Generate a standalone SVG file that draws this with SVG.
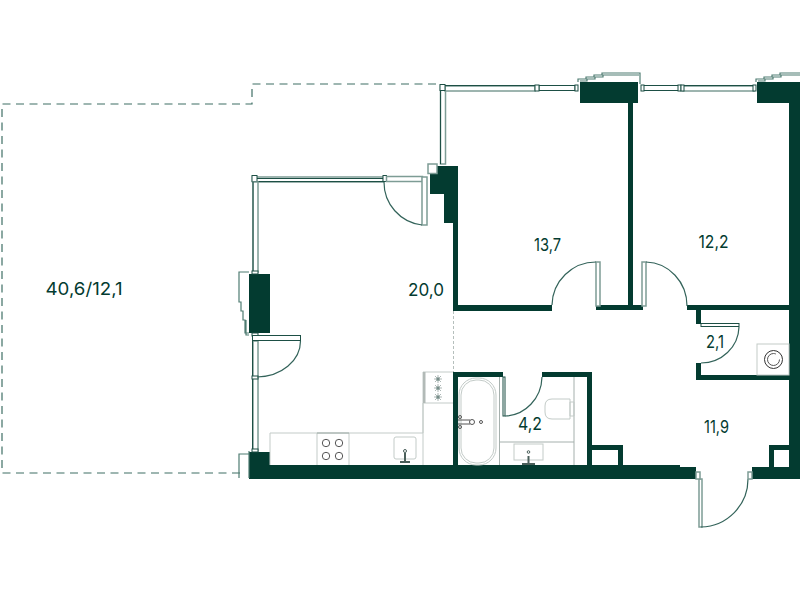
<svg xmlns="http://www.w3.org/2000/svg" width="800" height="600" viewBox="0 0 800 600">
<style>
.w{fill:#033b30}
.g{fill:#fff;stroke:#1d4f45;stroke-width:1}
.gl{fill:#fff;stroke:#7d9c95;stroke-width:1.5}
.st{fill:none;stroke:#4f7c72;stroke-width:1.2}
.ln{fill:none;stroke:#1d4f45;stroke-width:1}
.a{fill:none;stroke:#33635a;stroke-width:1.2}
.d{fill:none;stroke:#3f6f65;stroke-width:1.2;stroke-dasharray:8 5.500}
.f{fill:none;stroke:#c3cbc8;stroke-width:1}
.b{fill:none;stroke:#555;stroke-width:1}
text{font-family:"Inter","Liberation Sans",sans-serif;font-size:17.500px;fill:#033b30;text-anchor:middle}
</style>
<g id="terrace"><path class="d" d="M240 473H2V104H252V84H440"/></g>
<g id="walls">
<path class="w" d="M430 166H458V305H552V311H453V223H444V194H430Z"/>
<path class="w" d="M249 274H270V333H249Z"/>
<path class="w" d="M249 452H270V465H680V467H696V479H249Z"/>
<path class="w" d="M580 82H638V103H633V306H628V103H580Z"/>
<path class="w" d="M596 305H643V310H596Z"/>
<path class="w" d="M757 82H800V479H752V467H789V103H757Z"/>
<path class="w" d="M687 305H789V310H701V324H696V310H687Z"/>
<path class="w" d="M696 363H701V375H789V380H696Z"/>
<path class="w" d="M453 372H503V377H458V465H453Z"/>
<path class="w" d="M542 372H592V465H587V377H542Z"/>
<path class="w" d="M592 445H623V465H618V450H592Z"/>
<path class="w" d="M769 445H789V450H774V467H769Z"/>
</g>
<g id="connectors">
<g id="windows">
<path class="st" d="M249 272H239V302H241V311H243V320H245V333H249M249 335H246V320"/>
<path class="st" d="M249 454H239V478M249 451V478"/>
<path class="st" d="M578 82V79H586V77H594V75H602V73H640V84M580 81H587V79H595V77H603V75H639"/>
<path class="st" d="M756 82V79H764V77H772V75H780V73H800M758 81H765V79H773V77H781V75H800"/>
<rect class="gl" x="440.500" y="86" width="5" height="78"/>
<path class="ln" d="M440.500 86V164"/>
<rect class="gl" x="445" y="86" width="90" height="5"/>
<path class="ln" d="M445 85.500H535"/>
<rect class="g" x="539" y="85.500" width="36" height="5"/>
<rect class="g" x="440" y="84.500" width="5" height="6"/>
<rect class="g" x="535" y="85" width="4" height="6"/>
<rect class="g" x="575" y="85" width="3" height="6"/>
<rect class="g" x="643" y="85.500" width="36" height="5"/>
<rect class="gl" x="683" y="86" width="71" height="5"/>
<path class="ln" d="M683 85.500H754"/>
<rect class="g" x="678" y="85" width="3" height="6"/>
<rect class="g" x="681" y="85" width="3" height="6"/>
<rect class="g" x="641" y="85" width="3" height="6"/>
<rect class="g" x="753" y="85" width="3" height="6"/>
<rect class="gl" x="252.500" y="177" width="131" height="5"/>
<path class="ln" d="M257 178.500H384M257 181.500H384"/>
<rect class="g" x="252" y="175.500" width="5" height="6"/>
<rect class="g" x="383" y="175.500" width="3.500" height="6"/>
<rect class="gl" x="386.500" y="176.500" width="36" height="5"/>
<rect class="gl" x="253" y="182" width="5" height="90"/>
<path class="ln" d="M253 182V272"/>
<rect class="gl" x="253" y="341" width="5" height="110"/>
<path class="ln" d="M252.500 335V451"/>
<rect class="g" x="252" y="271" width="6" height="3"/>
<rect class="g" x="252" y="333" width="6" height="3"/>
<rect class="g" x="252" y="376" width="6" height="3"/>
<rect class="g" x="252" y="449" width="6" height="3"/>
<rect class="gl" x="428" y="164" width="9" height="9.500"/>
</g>
</g>
<g id="doors">
<rect class="gl" x="422" y="177" width="5" height="48"/>
<path class="a" d="M384 182A43 43 0 0 0 422 225"/>
<rect class="g" x="252.500" y="335.500" width="48" height="5"/>
<path class="a" d="M300.500 341A44 36 0 0 1 257 377"/>
<rect class="gl" x="596" y="262" width="4" height="44"/>
<path class="a" d="M552 305A44 44 0 0 1 596 262"/>
<rect class="gl" x="642" y="262" width="4" height="44"/>
<path class="a" d="M646 262A42 44 0 0 1 687 306"/>
<rect class="g" x="701" y="323.500" width="38" height="3"/>
<path class="a" d="M739 327A38 37 0 0 1 701 363"/>
<rect class="g" x="503" y="377" width="2" height="39"/>
<path class="a" d="M505 416A38 40 0 0 0 542 377"/>
<rect class="gl" x="699" y="479" width="3" height="48"/>
<path class="a" d="M701 527A48 48 0 0 0 748 479"/>
<rect class="gl" x="696" y="472" width="4" height="7"/>
<rect class="gl" x="748" y="472" width="4" height="7"/>
</g>
<g id="fixtures">
<path d="M453.500 311V372" stroke-dasharray="3 2" stroke="#b5bfbc" fill="none"/>
<path class="f" d="M270 465V433H423V372H453M423 403H453M423 403V465M317 433V465M349 433V465"/>
<rect x="423" y="372" width="2.500" height="31" fill="#b2bab7"/>
<path d="M317 433H349" stroke="#9aa8a4" fill="none"/>
<circle cx="326" cy="443" r="3.700" class="b"/><circle cx="339" cy="443" r="3.700" class="b"/><circle cx="326" cy="456" r="3.700" class="b"/><circle cx="339" cy="456" r="3.700" class="b"/>
<rect class="f" x="394" y="437" width="22" height="22" rx="2"/>
<path d="M405 453V462M400 462H410" stroke="#4a5f5a" stroke-width="2" fill="none"/>
<circle cx="405" cy="451" r="1.500" fill="#fff" stroke="#4a5f5a"/>
<g fill="#033b30"><circle cx="438" cy="379" r="1.500"/><circle cx="438" cy="388" r="1.500"/><circle cx="438" cy="397" r="1.500"/></g>
<path d="M434 379H442M438 375V383M435 376L441 382M441 376L435 382M434 388H442M438 384V392M435 385L441 391M441 385L435 391M434 397H442M438 393V401M435 394L441 400M441 394L435 400" stroke="#8a9a96" stroke-width=".7"/>
<path d="M499.500 377V465M500 442H574M574 377V465" fill="none" stroke="#a5b0ad"/>
<rect class="f" x="459" y="378" width="37" height="87" rx="17"/>
<rect class="f" x="461" y="380" width="33" height="83" rx="15"/>
<path class="b" d="M458 420H470M458 424H470"/>
<circle class="b" cx="472" cy="422" r="2.500"/>
<circle class="b" cx="481" cy="422" r="1.500"/>
<circle class="b" cx="460" cy="417" r="1.500"/>
<circle class="b" cx="460" cy="427" r="1.500"/>
<path class="f" d="M570 399H552Q545 399 545 406V412Q545 419 552 419H570ZM570 402H574V416H570Z"/>
<rect class="f" x="514" y="444" width="29" height="16"/>
<path d="M528.500 456V465M522 464H535" stroke="#4a5f5a" stroke-width="2" fill="none"/>
<circle cx="528.500" cy="452" r="1.300" fill="#fff" stroke="#4a5f5a"/>
<rect class="f" x="757" y="344" width="32" height="31"/>
<circle cx="773.500" cy="359.500" r="9" fill="none" stroke="#333"/>
<circle class="b" cx="773.500" cy="359.500" r="6" stroke-dasharray="30 8"/>
</g>
<g id="labels">
<text x="84" y="295" textLength="77" lengthAdjust="spacingAndGlyphs">40,6/12,1</text>
<text x="426" y="296" textLength="36" lengthAdjust="spacingAndGlyphs">20,0</text>
<text x="547.500" y="250.500" textLength="27" lengthAdjust="spacingAndGlyphs">13,7</text>
<text x="713.500" y="247.500" textLength="30" lengthAdjust="spacingAndGlyphs">12,2</text>
<text x="715" y="348" textLength="18" lengthAdjust="spacingAndGlyphs">2,1</text>
<text x="530" y="430" textLength="24" lengthAdjust="spacingAndGlyphs">4,2</text>
<text x="716.500" y="433" textLength="25" lengthAdjust="spacingAndGlyphs">11,9</text>
</g>
</svg>
